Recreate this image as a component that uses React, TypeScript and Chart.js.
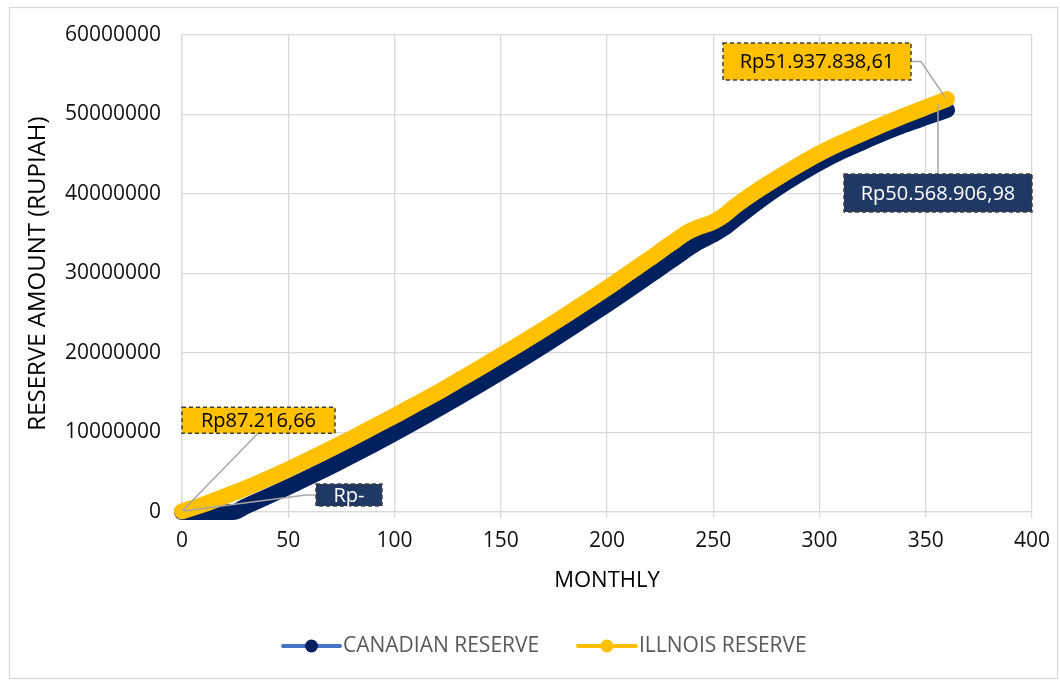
import React, { useEffect, useRef } from "react";
import { Chart, registerables } from "chart.js";

Chart.register(...registerables);

// ---------- DATA ----------
const months = [
  0, 10, 20, 24, 30, 40, 50, 60, 70, 80, 90, 100, 110, 120, 130, 140, 150, 160, 170, 180,
  190, 200, 210, 220, 230, 238, 242, 250, 255, 260, 270, 280, 290, 300, 310, 320, 330, 340, 350, 360,
];

const canadianReserve = [
  0, 0, 0, 0, 720000, 1920000, 3150000, 4420000, 5730000, 7080000, 8470000, 9900000, 11370000,
  12880000, 14430000, 16000000, 17600000, 19230000, 20900000, 22600000, 24350000, 26100000,
  27900000, 29750000, 31600000, 33100000, 33800000, 34900000, 35700000, 36750000, 38800000,
  40700000, 42400000, 43950000, 45300000, 46500000, 47650000, 48700000, 49650000, 50568906.98,
];

const illinoisReserve = [
  87216.66, 950000, 1950000, 2370000, 3000000, 4150000, 5350000, 6650000, 7950000, 9300000,
  10700000, 12100000, 13550000, 15000000, 16550000, 18100000, 19700000, 21300000, 22950000,
  24650000, 26400000, 28150000, 30000000, 31850000, 33750000, 35200000, 35700000, 36500000,
  37300000, 38400000, 40300000, 42000000, 43600000, 45100000, 46400000, 47600000, 48750000,
  49850000, 50900000, 51937838.61,
];

const seriesNames = ["CANADIAN RESERVE", "ILLNOIS RESERVE"];
const calloutStartCanadian = "Rp-";
const calloutStartIllinois = "Rp87.216,66";
const calloutEndCanadian = "Rp50.568.906,98";
const calloutEndIllinois = "Rp51.937.838,61";
const xAxisTitle = "MONTHLY";
const yAxisTitle = "RESERVE AMOUNT (RUPIAH)";

const Y_MIN = 0;
const Y_MAX = 60000000;
const Y_STEP = 10000000;
const X_MIN = 0;
const X_MAX = 400;
const X_STEP = 50;

// ---------- STYLE ----------
const NAVY = "#002060";
const GOLD = "#FFC000";
const NAVY_BOX = "#203864";
const LEGEND_BLUE = "#4472C4";
const GRID = "#D9D9D9";
const FONT = '"Open Sans", "Noto Sans", sans-serif';

function drawBox(
  ctx: CanvasRenderingContext2D,
  x: number,
  y: number,
  w: number,
  h: number,
  fill: string,
  color: string,
  text: string
) {
  ctx.save();
  ctx.fillStyle = fill;
  ctx.fillRect(x, y, w, h);
  ctx.setLineDash([4, 3]);
  ctx.strokeStyle = "#404040";
  ctx.lineWidth = 1.5;
  ctx.strokeRect(x, y, w, h);
  ctx.setLineDash([]);
  ctx.fillStyle = color;
  ctx.font = `20px ${FONT}`;
  ctx.textAlign = "center";
  ctx.textBaseline = "middle";
  ctx.fillText(text, x + w / 2, y + h / 2 + 1);
  ctx.restore();
}

function leader(ctx: CanvasRenderingContext2D, pts: [number, number][]) {
  ctx.save();
  ctx.strokeStyle = "#A6A6A6";
  ctx.lineWidth = 1.5;
  ctx.beginPath();
  pts.forEach((p, i) => (i === 0 ? ctx.moveTo(p[0], p[1]) : ctx.lineTo(p[0], p[1])));
  ctx.stroke();
  ctx.restore();
}

const decorPlugin = {
  id: "decor",
  afterDatasetsDraw(chart: any) {
    const ctx: CanvasRenderingContext2D = chart.ctx;
    const xs = chart.scales.x;
    const ys = chart.scales.y;
    const last = months.length - 1;
    const pI0 = [xs.getPixelForValue(months[0]), ys.getPixelForValue(illinoisReserve[0])];
    const pC0 = [xs.getPixelForValue(months[0]), ys.getPixelForValue(canadianReserve[0])];
    const pIe = [xs.getPixelForValue(months[last]), ys.getPixelForValue(illinoisReserve[last])];
    const pCe = [xs.getPixelForValue(months[last]), ys.getPixelForValue(canadianReserve[last])];

    // start Illinois
    {
      const w = 153, h = 26;
      const x = pI0[0], y = pI0[1] - 104;
      leader(ctx, [[x + 76, y + h], [pI0[0] + 1, pI0[1] - 1]]);
      drawBox(ctx, x, y, w, h, GOLD, "#000000", calloutStartIllinois);
    }
    // start Canadian
    {
      const w = 66, h = 22;
      const x = pC0[0] + 134, y = pC0[1] - 28;
      leader(ctx, [[pC0[0] + 1, pC0[1] - 1], [x - 10, y + h / 2], [x, y + h / 2]]);
      drawBox(ctx, x, y, w, h, NAVY_BOX, "#FFFFFF", calloutStartCanadian);
    }
    // end Illinois
    {
      const w = 188, h = 37;
      const x = pIe[0] - 224, y = pIe[1] - 56;
      leader(ctx, [[x + w, y + h / 2], [x + w + 10, y + h / 2], [pIe[0] - 2, pIe[1] - 2]]);
      drawBox(ctx, x, y, w, h, GOLD, "#000000", calloutEndIllinois);
    }
    // end Canadian
    {
      const w = 188, h = 38;
      const x = pCe[0] - 103, y = pCe[1] + 64;
      leader(ctx, [[pCe[0] - 9, y], [pCe[0] - 9, pCe[1] - 6]]);
      drawBox(ctx, x, y, w, h, NAVY_BOX, "#FFFFFF", calloutEndCanadian);
    }
  },
  afterDraw(chart: any) {
    const ctx: CanvasRenderingContext2D = chart.ctx;
    const area = chart.chartArea;
    ctx.save();
    // outer border
    ctx.strokeStyle = GRID;
    ctx.lineWidth = 1.3;
    ctx.strokeRect(9.5, 7.5, 1048, 671);

    // axis titles
    ctx.fillStyle = "#000000";
    ctx.textAlign = "center";
    ctx.textBaseline = "middle";
    ctx.font = `22px ${FONT}`;
    ctx.fillText(xAxisTitle, (area.left + area.right) / 2, 581);
    ctx.save();
    ctx.translate(38, (area.top + area.bottom) / 2);
    ctx.rotate(-Math.PI / 2);
    ctx.font = `24px ${FONT}`;
    ctx.fillText(yAxisTitle, 0, 0);
    ctx.restore();

    // legend
    const ly = 646;
    const items = [
      { x0: 283, x1: 340, line: LEGEND_BLUE, dot: NAVY, text: seriesNames[0] },
      { x0: 578, x1: 636, line: GOLD, dot: GOLD, text: seriesNames[1] },
    ];
    items.forEach((it) => {
      ctx.strokeStyle = it.line;
      ctx.lineWidth = 4;
      ctx.lineCap = "round";
      ctx.beginPath();
      ctx.moveTo(it.x0, ly);
      ctx.lineTo(it.x1, ly);
      ctx.stroke();
      ctx.fillStyle = it.dot;
      ctx.beginPath();
      ctx.arc((it.x0 + it.x1) / 2, ly, 6.5, 0, Math.PI * 2);
      ctx.fill();
      ctx.fillStyle = "#595959";
      ctx.font = `21px ${FONT}`;
      ctx.textAlign = "left";
      ctx.textBaseline = "middle";
      ctx.fillText(it.text, it.x1 + 3, ly);
    });
    ctx.restore();
  },
};

export default function App() {
  const canvasRef = useRef<HTMLCanvasElement | null>(null);

  useEffect(() => {
    document.body.style.margin = "0";
    const canvas = canvasRef.current;
    if (!canvas) return;
    const chart = new Chart(canvas, {
      type: "line",
      data: {
        datasets: [
          {
            label: seriesNames[0],
            data: months.map((m, i) => ({ x: m, y: canadianReserve[i] })),
            borderColor: NAVY,
            backgroundColor: NAVY,
            borderWidth: 16,
            borderCapStyle: "round",
            borderJoinStyle: "round",
            pointRadius: 0,
            cubicInterpolationMode: "monotone",
            order: 2,
            clip: false,
          },
          {
            label: seriesNames[1],
            data: months.map((m, i) => ({ x: m, y: illinoisReserve[i] })),
            borderColor: GOLD,
            backgroundColor: GOLD,
            borderWidth: 16,
            borderCapStyle: "round",
            borderJoinStyle: "round",
            pointRadius: 0,
            cubicInterpolationMode: "monotone",
            order: 1,
            clip: false,
          },
        ],
      } as any,
      options: {
        animation: false,
        responsive: false,
        maintainAspectRatio: false,
        layout: { padding: { left: 42, right: 27, top: 35, bottom: 0 } },
        plugins: {
          legend: { display: false },
          tooltip: { enabled: false },
          title: { display: false },
        },
        scales: {
          x: {
            type: "linear",
            min: X_MIN,
            max: X_MAX,
            afterFit: (scale: any) => {
              scale.height = 168;
            },
            ticks: {
              stepSize: X_STEP,
              color: "#111111",
              font: { family: FONT, size: 21 },
              padding: 10,
              maxRotation: 0,
            },
            grid: {
              color: GRID,
              lineWidth: 1.3,
              drawTicks: true,
              tickLength: 6,
              tickColor: GRID,
            },
            border: { display: true, color: GRID, width: 1.3 },
          },
          y: {
            type: "linear",
            min: Y_MIN,
            max: Y_MAX,
            afterFit: (scale: any) => {
              scale.width = 140;
            },
            ticks: {
              stepSize: Y_STEP,
              color: "#111111",
              font: { family: FONT, size: 21 },
              padding: 21,
              callback: (v: any) => String(v),
            },
            grid: { color: GRID, lineWidth: 1.3, drawTicks: false },
            border: { display: true, color: GRID, width: 1.3 },
          },
        },
      } as any,
      plugins: [decorPlugin],
    });
    return () => chart.destroy();
  }, []);

  return (
    <div style={{ width: 1060, height: 680 }}>
      <canvas ref={canvasRef} width={1060} height={680} style={{ display: "block" }} />
    </div>
  );
}
